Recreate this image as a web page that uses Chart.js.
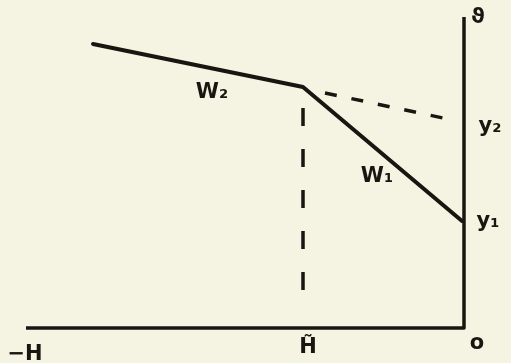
<!DOCTYPE html>
<html>
<head>
<meta charset="utf-8">
<script src="https://cdn.jsdelivr.net/npm/chart.js@4.4.0/dist/chart.umd.min.js"></script>
<style>
  html, body { margin: 0; padding: 0; background: #f5f3e2; }
  #wrap { width: 511px; height: 363px; }
</style>
</head>
<body>
<div id="wrap"><canvas id="myChart"></canvas></div>
<script>
// coordinates: origin at the corner "o", x to the right, y up
const brokenLineX = [-371, -161, -2]
const brokenLineY = [284, 241, 107]

const extendX = [-139, -21]
const extendY = [235, 210]

const dropX = [-161, -161]
const dropY = [220, 36]

const axisX = [-438, 0, 0]
const axisY = [0, 0, 311]

const labelText = ['W₂', 'W₁', 'y₂', 'y₁', 'ϑ', '−H', 'H̃', 'o']
const labelX = [-252, -87, 26, 24, 14, -439, -156, 13]
const labelY = [235, 151, 201, 106, 310, -27, -20, -16]

const toPoints = (xs, ys) => xs.map((x, i) => ({ x: x, y: ys[i] }))

const ink = '#1b1512'

const paper = {
    id: 'paper',
    beforeDraw(chart) {
        const c = chart.ctx
        c.save()
        c.fillStyle = '#f5f3e2'
        c.fillRect(0, 0, chart.width, chart.height)
        c.restore()
    }
}

const labels = {
    id: 'labels',
    afterDatasetsDraw(chart) {
        const c = chart.ctx
        const sx = chart.scales.x, sy = chart.scales.y
        c.save()
        c.fillStyle = ink
        c.textAlign = 'center'
        c.textBaseline = 'middle'
        c.font = 'bold 21px "DejaVu Sans"'
        labelText.forEach((t, i) => {
            c.fillText(t, sx.getPixelForValue(labelX[i]), sy.getPixelForValue(labelY[i]))
        })
        c.restore()
    }
}

let ctx = document.getElementById('myChart')
let myChart = new Chart(ctx, {
    type: 'scatter',
    data: {
        datasets: [
            {
                data: toPoints(axisX, axisY),
                showLine: true,
                borderColor: ink,
                borderWidth: 3.5,
                pointRadius: 0,
                borderJoinStyle: 'round',
            },
            {
                data: toPoints(brokenLineX, brokenLineY),
                showLine: true,
                borderColor: ink,
                borderWidth: 4,
                pointRadius: 0,
                borderCapStyle: 'round',
                borderJoinStyle: 'round',
            },
            {
                data: toPoints(extendX, extendY),
                showLine: true,
                borderColor: ink,
                borderWidth: 3.5,
                borderDash: [12, 15],
                pointRadius: 0,
            },
            {
                data: toPoints(dropX, dropY),
                showLine: true,
                borderColor: ink,
                borderWidth: 3.5,
                borderDash: [18, 23],
                pointRadius: 0,
            },
        ]
    },
    options: {
        responsive: true,
        maintainAspectRatio: false,
        animation: false,
        layout: { padding: 0 },
        plugins: {
            legend: { display: false },
            tooltip: { enabled: false },
        },
        scales: {
            x: { type: 'linear', min: -464, max: 47, display: false },
            y: { type: 'linear', min: -35, max: 328, display: false },
        }
    },
    plugins: [paper, labels]
});
</script>
</body>
</html>
